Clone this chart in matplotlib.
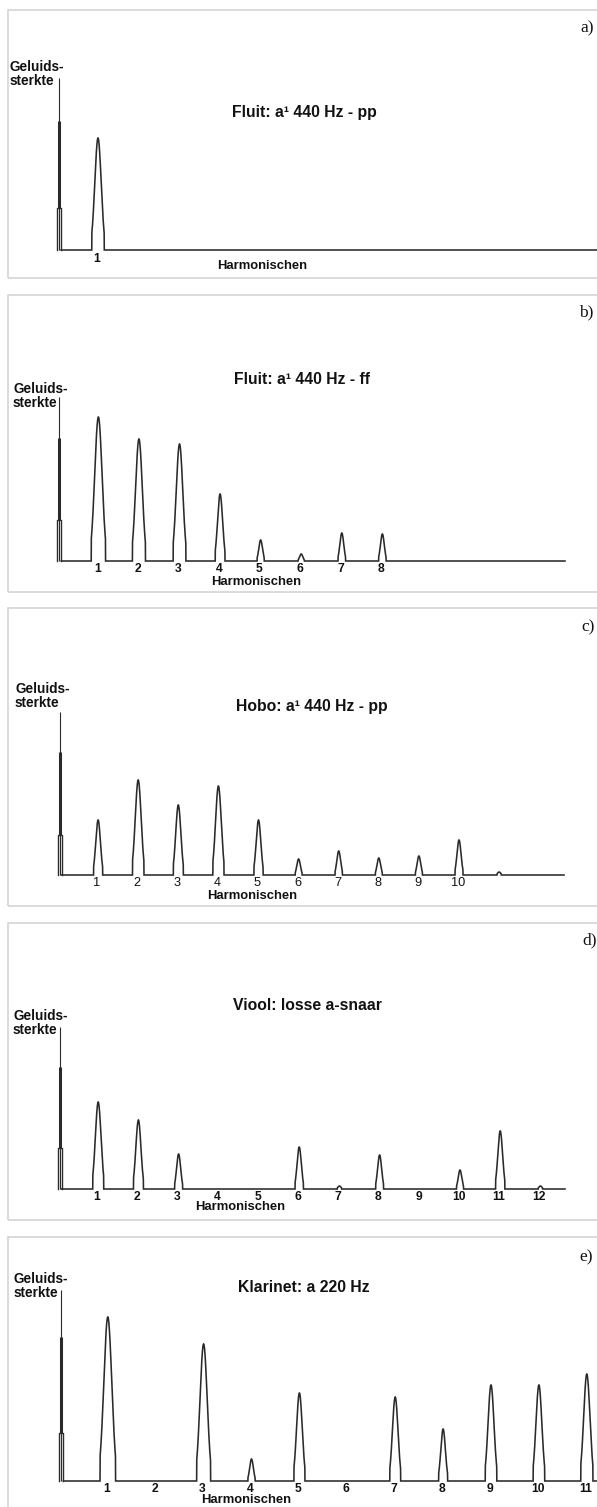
import numpy as np
import matplotlib
matplotlib.use("Agg")
import matplotlib.pyplot as plt
from matplotlib.patches import Rectangle

W, H = 597, 1507

# ---------------- data ----------------
titles = ["Fluit: a¹ 440 Hz - pp",
          "Fluit: a¹ 440 Hz - ff",
          "Hobo: a¹ 440 Hz - pp",
          "Viool: losse a-snaar",
          "Klarinet: a 220 Hz"]
panel_tags = ["a)", "b)", "c)", "d)", "e)"]
y_label = "Geluids-\nsterkte"
x_label = "Harmonischen"

# harmonic numbers with a visible peak, and peak heights (px above baseline)
harm_a = [1]
peak_a = [112]
harm_b = [1, 2, 3, 4, 5, 6, 7, 8]
peak_b = [144, 122, 117, 67, 21, 7, 28, 27]
harm_c = [1, 2, 3, 4, 5, 6, 7, 8, 9, 10, 11]
peak_c = [55, 95, 70, 89, 55, 16, 24, 17, 19, 35, 3]
harm_d = [1, 2, 3, 6, 7, 8, 10, 11, 12]
peak_d = [87, 69, 35, 42, 3, 34, 19, 58, 3]
harm_e = [1, 3, 4, 5, 7, 8, 9, 10, 11]
peak_e = [164, 137, 22, 88, 84, 52, 96, 96, 107]

# harmonic tick labels shown under each spectrum
ticks_a = [1]
ticks_b = [1, 2, 3, 4, 5, 6, 7, 8]
ticks_c = [1, 2, 3, 4, 5, 6, 7, 8, 9, 10]
ticks_d = [1, 2, 3, 4, 5, 6, 7, 8, 9, 10, 11, 12]
ticks_e = [1, 2, 3, 4, 5, 6, 7, 8, 9, 10, 11]

# the zero-frequency spike: tall narrow part and wide foot
dc_top = [129, 123, 123, 122, 144]
dc_step = [42, 41, 40, 41, 48]

harms = [harm_a, harm_b, harm_c, harm_d, harm_e]
peaks = [peak_a, peak_b, peak_c, peak_d, peak_e]
ticks = [ticks_a, ticks_b, ticks_c, ticks_d, ticks_e]

# ---------------- layout (pixels) ----------------
layout = [
    dict(top=10, bottom=278, base=250, x0=57.6, sp=40.4, axis_top=172, end=600,
         title=(304, 112), tag=(580, 28), ylab=(10, 74), xlab=(262, 266), tickw="bold"),
    dict(top=295, bottom=592, base=561, x0=57.8, sp=40.57, axis_top=164, end=565,
         title=(302, 379), tag=(579, 312), ylab=(13, 396), xlab=(256, 582), tickw="bold"),
    dict(top=608, bottom=906, base=875, x0=58.0, sp=40.1, axis_top=163, end=564,
         title=(312, 707), tag=(581, 627), ylab=(15, 696), xlab=(252, 896), tickw="normal"),
    dict(top=923, bottom=1220, base=1189, x0=58.0, sp=40.2, axis_top=162, end=565,
         title=(307, 1005), tag=(582, 940), ylab=(13, 1023), xlab=(240, 1207), tickw="bold"),
    dict(top=1237, bottom=1507, base=1481, x0=59.9, sp=47.9, axis_top=191, end=600,
         title=(304, 1287), tag=(579, 1257), ylab=(14, 1286), xlab=(246, 1500), tickw="bold"),
]

LINE = "#2a2a2a"
TXT = "#111111"
SANS = "Liberation Sans"
SERIF = "Liberation Serif"

fig = plt.figure(figsize=(W / 100, H / 100), dpi=100)
fig.patch.set_facecolor("white")


def fx(x):
    return x / W


def fy(y):
    return 1 - y / H


for i, L in enumerate(layout):
    top, bot, base, x0, sp = L["top"], L["bottom"], L["base"], L["x0"], L["sp"]
    extra = 8 if i == 4 else 0
    # border
    fig.add_artist(Rectangle((fx(8), fy(bot + extra)), fx(620 - 8),
                             (bot - top + extra) / H,
                             transform=fig.transFigure, fill=False,
                             ec="#d4d4d4", lw=1.2))
    ax = fig.add_axes([0, fy(bot), 1, (bot - top) / H])
    ax.set_xlim((0 - x0) / sp, (W - x0) / sp)
    ax.set_ylim(-(bot - base), base - top)
    ax.axis("off")

    px = 1.0 / sp  # one pixel in harmonic units
    xd = 1.5 * px  # zero-frequency spike position

    # y axis line
    ax.plot([xd, xd], [0, L["axis_top"]], color=LINE, lw=0.8, solid_capstyle="butt")
    # spike: thick upper part
    ax.plot([xd, xd], [dc_step[i], dc_top[i]], color=LINE, lw=2.2,
            solid_capstyle="butt")
    # spike: wider foot
    ax.plot([xd - 2 * px, xd - 2 * px, xd + 2 * px, xd + 2 * px],
            [0, dc_step[i], dc_step[i], 0], color=LINE, lw=1.0)

    # spectrum curve
    xe = (L["end"] - x0) / sp
    x = np.linspace(xd + 2 * px, xe, 8000)
    y = np.zeros_like(x)
    for h, a in zip(harms[i], peaks[i]):
        sig = (1.5 + 0.015 * a) * px
        g = a * np.exp(-0.5 * ((x - h) / sig) ** 2)
        g[g < min(0.15 * a, 25.0) if a > 6 else g < 0.4 * a] = 0
        y = np.maximum(y, g)
    ax.plot(x, y, color=LINE, lw=1.15, solid_joinstyle="miter")

    # harmonic numbers
    for t in ticks[i]:
        ax.text(t - 1.2 * px, -2.5, str(t), ha="center", va="top",
                fontsize=8.7 if L["tickw"] == "bold" else 9.2,
                fontweight=L["tickw"], family=SANS, color=TXT)

    # texts
    fig.text(fx(L["title"][0]), fy(L["title"][1]), titles[i], ha="center",
             va="center", fontsize=11.3, fontweight="bold", family=SANS, color=TXT)
    fig.text(fx(L["tag"][0]), fy(L["tag"][1]), panel_tags[i], ha="left",
             va="center", fontsize=12.5, family=SERIF, color=TXT)
    fig.text(fx(L["ylab"][0]), fy(L["ylab"][1]), y_label, ha="left",
             va="center", fontsize=9.8, fontweight="bold", family=SANS,
             color=TXT, linespacing=0.95)
    fig.text(fx(L["xlab"][0]), fy(L["xlab"][1]), x_label, ha="center",
             va="center", fontsize=9.4, fontweight="bold", family=SANS, color=TXT)

fig.savefig("out.png", dpi=100, facecolor="white")
